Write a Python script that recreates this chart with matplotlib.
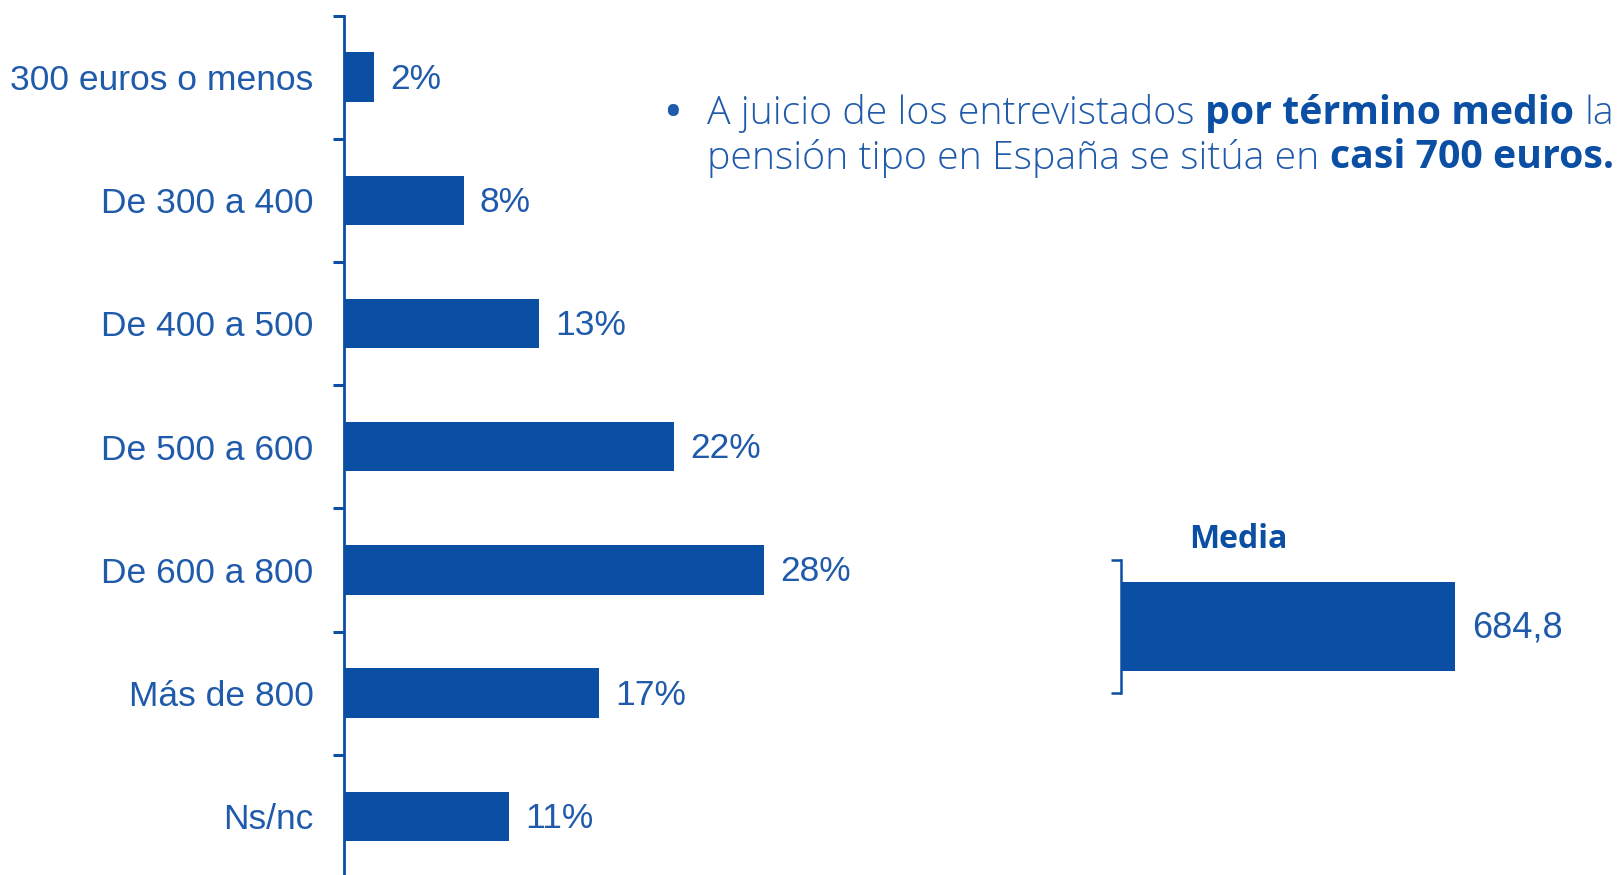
import matplotlib
matplotlib.use('Agg')
import matplotlib.pyplot as plt

categorias = ['300 euros o menos', 'De 300 a 400', 'De 400 a 500', 'De 500 a 600',
              'De 600 a 800', 'Más de 800', 'Ns/nc']
porcentajes = [2, 8, 13, 22, 28, 17, 11]
media = 684.8
media_txt = '684,8'

linea1 = [('A juicio de los entrevistados', 'light'), ('por término medio', 'bold'), ('la', 'light')]
linea2 = [('pensión tipo en España se sitúa en', 'light'), ('casi 700 euros.', 'bold')]

azul = '#0a4fa3'
azul_txt = '#1f5aab'

W, H = 1621, 875
fig = plt.figure(figsize=(W / 100, H / 100), dpi=100)

# grafico principal
ax = fig.add_axes([344 / W, 0, 656 / W, (H - 15.5) / H])
n = len(categorias)
pos = list(range(n))
ax.barh(pos, porcentajes, height=0.4, color=azul)
ax.set_ylim(-0.5 + (H - 15.5) / 123.2, -0.5)
ax.set_xlim(0, 656 / 15)
for s in ['top', 'right', 'bottom']:
    ax.spines[s].set_visible(False)
ax.spines['left'].set_color(azul)
ax.spines['left'].set_linewidth(2)
ax.set_xticks([])
ax.set_yticks([p - 0.5 for p in pos])
ax.set_yticklabels([])
ax.tick_params(axis='y', which='major', length=8, width=2.2, color=azul)
ax.set_yticks(pos, categorias, minor=True)
ax.tick_params(axis='y', which='minor', length=0, pad=22, labelsize=25.5, labelcolor=azul_txt)
for t in ax.get_yticklabels(minor=True):
    t.set_family('Liberation Sans')

for p, v in zip(pos, porcentajes):
    ax.annotate(f'{v}%', (v, p), xytext=(11.5, -1.5), textcoords='offset points',
                va='center', ha='left', fontsize=25.5, color=azul_txt,
                family='Liberation Sans', clip_on=False)

# media
axm = fig.add_axes([1120.6 / W, (H - 692.6) / H, 450 / W, 132.6 / H])
axm.barh([0], [media], height=0.67, color=azul)
axm.set_ylim(-0.5, 0.5)
axm.set_xlim(0, media * 450 / 334)
for s in ['top', 'right', 'bottom']:
    axm.spines[s].set_visible(False)
axm.spines['left'].set_color(azul)
axm.spines['left'].set_linewidth(1.8)
axm.set_xticks([])
axm.set_yticks([-0.5, 0.5])
axm.set_yticklabels([])
axm.tick_params(axis='y', length=7, width=1.8, color=azul)
axm.annotate(media_txt, (media, 0), xytext=(12.5, -1), textcoords='offset points',
             va='center', ha='left', fontsize=26, color=azul_txt,
             family='Liberation Sans', clip_on=False)
fig.text(1238 / W, (H - 548) / H, 'Media', ha='center', va='baseline',
         fontsize=23, fontweight='bold', color=azul, family='Open Sans')

# texto con negritas
fig.canvas.draw()
renderer = fig.canvas.get_renderer()
familia = 'Open Sans'


def ancho(txt, size, weight):
    t = fig.text(0, 0, txt, fontsize=size, fontweight=weight, family=familia)
    w = t.get_window_extent(renderer).width
    t.remove()
    return w


def ancho_linea(partes, size):
    esp = ancho('x x', size, 'light') - ancho('xx', size, 'light')
    return sum(ancho(txt, size, w) for txt, w in partes) + esp * (len(partes) - 1)


size0 = 24
size = size0 * (1615 - 707) / ancho_linea(linea2, size0)


def dibuja(partes, x0, base):
    esp = ancho('x x', size, 'light') - ancho('xx', size, 'light')
    x = x0
    for txt, w in partes:
        col = azul if w == 'bold' else azul_txt
        t = fig.text(x / W, (H - base) / H, txt, fontsize=size, fontweight=w,
                     family=familia, color=col, va='baseline', ha='left')
        x += t.get_window_extent(renderer).width + esp


fig.text(665 / W, (H - 124) / H, '•', fontsize=size, fontweight='bold', family=familia,
         color=azul_txt, va='baseline', ha='left')
dibuja(linea1, 707, 124)
dibuja(linea2, 707, 168.5)

fig.savefig('out.png', dpi=100)
